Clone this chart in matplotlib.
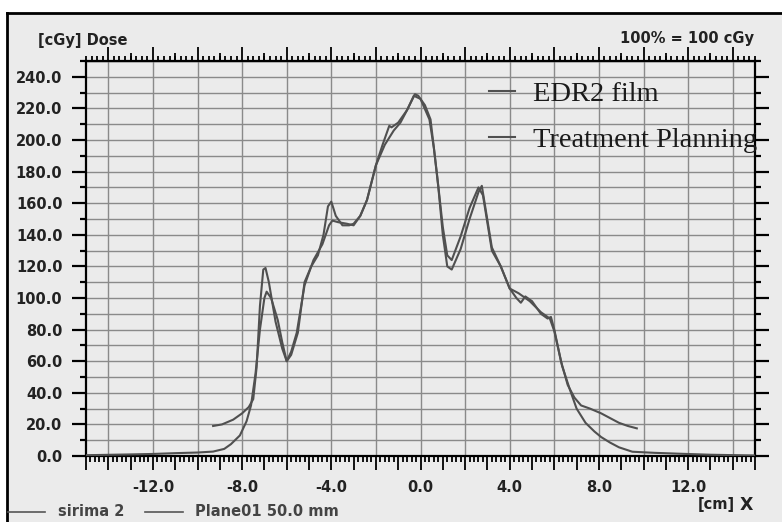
"""
Dosisprofil: EDR2 Film gegen Bestrahlungsplanung (Querprofil, Plane01 50 mm).
"""

import numpy as np
import matplotlib
matplotlib.use('Agg')
import matplotlib.pyplot as plt
from matplotlib.ticker import MultipleLocator, FuncFormatter
from matplotlib.lines import Line2D
from matplotlib.patches import Rectangle

# EDR2 Film (gemessen)
film_x = [-9.3, -8.9, -8.4, -8.0, -7.7, -7.5, -7.35, -7.2, -7.05, -6.95, -6.8, -6.5, -6.2, -6.0,
          -5.8, -5.5, -5.2, -4.9, -4.6, -4.35, -4.15, -4.0, -3.8, -3.5, -3.2, -3.0, -2.7, -2.4,
          -2.0, -1.7, -1.4, -1.3, -1.0, -0.6, -0.25, -0.1, 0.2, 0.45, 0.6, 0.8, 1.0, 1.2, 1.4,
          1.8, 2.2, 2.6, 2.75, 3.2, 3.6, 4.0, 4.3, 4.5, 4.7, 5.0, 5.4, 5.7, 5.85, 6.0, 6.3, 6.6,
          6.9, 7.2, 7.6, 8.1, 8.5, 8.9, 9.3, 9.7]
film_y = [19, 20, 23, 27, 31, 36, 56, 95, 118, 119, 110, 85, 68, 60,
          64, 78, 110, 120, 127, 140, 158, 161, 152, 146, 146, 147, 152, 162,
          184, 197, 209, 208, 211, 219, 229, 228, 222, 213, 195, 170, 140, 120, 118,
          131, 150, 167, 171, 132, 120, 106, 100, 97, 101, 98, 90, 87, 88, 80, 60, 45,
          37, 32, 30, 27, 24, 21, 19, 17.5]

# Bestrahlungsplanung (berechnet)
tps_x = [-15, -13, -12, -11, -10, -9.3, -8.8, -8.5, -8.1, -7.8, -7.6, -7.4, -7.2, -7.0, -6.9,
         -6.7, -6.4, -6.2, -6.0, -5.8, -5.55, -5.2, -4.8, -4.4, -4.1, -3.95, -3.7, -3.3, -3.0,
         -2.7, -2.4, -2.0, -1.6, -1.2, -0.9, -0.6, -0.3, 0.0, 0.4, 0.6, 0.75, 1.0, 1.2, 1.4,
         1.8, 2.2, 2.6, 2.8, 3.2, 3.6, 4.0, 4.4, 4.9, 5.4, 5.8, 6.0, 6.35, 6.7, 7.0, 7.4, 7.8,
         8.1, 8.5, 8.9, 9.5, 10.5, 11.5, 13, 15]
tps_y = [0.5, 1.0, 1.3, 1.8, 2.2, 2.8, 4.5, 7.5, 13, 22, 32, 52, 80, 100, 104,
         100, 86, 72, 60, 66, 78, 108, 124, 134, 146, 149, 148, 147, 146,
         152, 162, 184, 197, 206, 211, 219, 228, 226, 213, 195, 177, 145, 127, 124,
         139, 157, 170, 165, 130, 120, 106, 103, 98, 91, 87, 79, 57, 42, 30, 21, 15.5,
         12, 8.5, 5.5, 2.7, 2.0, 1.5, 0.8, 0.3]

W, H = 782, 522
bg = '#ebebeb'
grid_c = '#8a8a8a'
line_c = '#505050'

fig = plt.figure(figsize=(W / 100, H / 100), dpi=100, facecolor='white')
fig.patches.append(Rectangle((7 / W, 0), 1 - 7 / W, 1 - 13 / H, transform=fig.transFigure,
                             facecolor=bg, edgecolor='none', zorder=-10))
fig.lines.append(Line2D([7 / W, 7 / W], [0, 1 - 13 / H], transform=fig.transFigure,
                        color='black', lw=2, zorder=-5))
fig.lines.append(Line2D([7 / W, 1], [1 - 13 / H, 1 - 13 / H], transform=fig.transFigure,
                        color='black', lw=2, zorder=-5))

ax = fig.add_axes([86 / W, 1 - 456 / H, (755 - 86) / W, (456 - 61) / H])
ax.set_facecolor(bg)
ax.set_xlim(-15, 15)
ax.set_ylim(0, 250)

# Gitter
ax.yaxis.set_major_locator(MultipleLocator(20))
ax.yaxis.set_minor_locator(MultipleLocator(10))
ax.yaxis.grid(True, which='both', color=grid_c, lw=1.0)
for gx in np.arange(-14, 15, 2):
    ax.axvline(gx, color=grid_c, lw=1.0, zorder=1)
ax.set_axisbelow(True)

ax.plot(tps_x, tps_y, color=line_c, lw=1.5, zorder=3)
ax.plot(film_x, film_y, color=line_c, lw=1.5, zorder=3)

# Achsen
for s in ax.spines.values():
    s.set_linewidth(1.6)
ax.yaxis.set_major_formatter(FuncFormatter(lambda v, p: f'{v:.1f}'))
ax.tick_params(axis='y', which='both', left=True, right=True, direction='out', width=1.6,
               labelsize=10.5, pad=7)
ax.tick_params(axis='y', which='major', length=10)
ax.tick_params(axis='y', which='minor', length=4.5)

ax.xaxis.set_major_locator(MultipleLocator(1))
ax.xaxis.set_minor_locator(MultipleLocator(0.2))
ax.xaxis.set_major_formatter(FuncFormatter(
    lambda v, p: f'{v:.1f}' if abs(v) < 14 and round(v) % 4 == 0 else ''))
ax.tick_params(axis='x', which='both', bottom=True, top=False, direction='out', width=1.3,
               labelsize=10.5, pad=7)
ax.tick_params(axis='x', which='major', length=10)
ax.tick_params(axis='x', which='minor', length=4.5)
for lab in ax.get_xticklabels() + ax.get_yticklabels():
    lab.set_fontweight('bold')
    lab.set_color('#222222')

# obere Skala
top = ax.secondary_xaxis('top')
top.xaxis.set_major_locator(MultipleLocator(2))
top.xaxis.set_minor_locator(MultipleLocator(0.25))
top.tick_params(which='both', direction='out', width=1.3, labeltop=False)
top.tick_params(which='major', length=10)
top.tick_params(which='minor', length=3.5)
top2 = ax.secondary_xaxis('top')
top2.set_xticks(np.arange(-13, 15, 2))
top2.tick_params(direction='out', width=1.3, length=6, labeltop=False)

# Legende
leg = ax.legend([Line2D([], [], color=line_c, lw=1.5), Line2D([], [], color=line_c, lw=1.5)],
                ['EDR2 film', 'Treatment Planning'], loc='upper left',
                bbox_to_anchor=((489 - 86) / (755 - 86), (456 - 81) / (456 - 61)),
                frameon=False, prop={'family': 'Liberation Serif', 'size': 20.5},
                handlelength=0.9, handletextpad=0.65, labelspacing=0.72, borderaxespad=0,
                borderpad=0)
for t in leg.get_texts():
    t.set_color('#1a1a1a')

# Beschriftungen
txt = dict(fontweight='bold', fontsize=10.5, color='#222222')
fig.text(38 / W, 1 - 40 / H, '[cGy] Dose', ha='left', va='center', **txt)
fig.text(754 / W, 1 - 38 / H, '100% = 100 cGy', ha='right', va='center', **txt)
fig.text(735 / W, 1 - 505 / H, '[cm]', ha='right', va='center', **txt)
fig.text(753 / W, 1 - 505 / H, 'X', ha='right', va='center', fontsize=12.5,
         fontweight='bold', color='#222222')
fig.lines.append(Line2D([8 / W, 45 / W], [1 - 512 / H] * 2, transform=fig.transFigure,
                        color='#555555', lw=1.2))
fig.lines.append(Line2D([145 / W, 183 / W], [1 - 512 / H] * 2, transform=fig.transFigure,
                        color='#555555', lw=1.2))
fig.text(58 / W, 1 - 512 / H, 'sirima 2', ha='left', va='center',
         fontweight='bold', fontsize=10.5, color='#444444')
fig.text(195 / W, 1 - 512 / H, 'Plane01 50.0 mm', ha='left', va='center',
         fontweight='bold', fontsize=10.5, color='#444444')

fig.savefig('out.png', dpi=100, facecolor=fig.get_facecolor())
